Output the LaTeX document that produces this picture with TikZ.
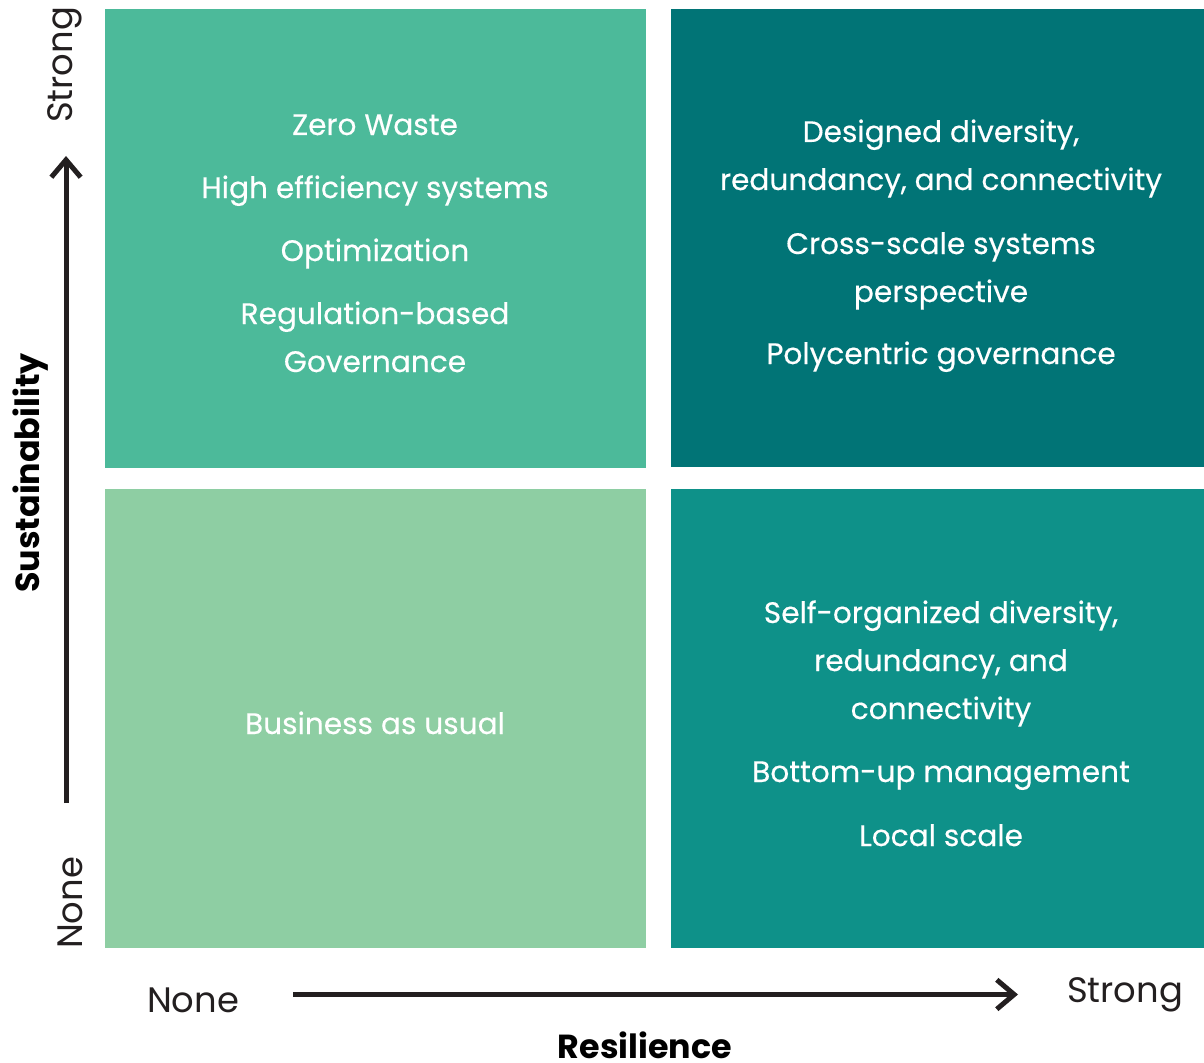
\documentclass[tikz,border=0pt]{standalone}
\usepackage{fontspec}
\setmainfont{Poppins}
\newfontfamily\itemfont{Poppins}[FakeBold=0.35]
\usetikzlibrary{arrows.meta}
\definecolor{qtl}{HTML}{4CBA9A}
\definecolor{qtr}{HTML}{017476}
\definecolor{qbl}{HTML}{8ECEA3}
\definecolor{qbr}{HTML}{0E9189}
\definecolor{axisink}{HTML}{231F20}
\begin{document}
\begin{tikzpicture}[x=0.75pt,y=-0.75pt,
  item/.style={anchor=base,align=center,text=white,inner sep=0pt,
    font=\itemfont\fontsize{22.2}{36}\selectfont},
  tick/.style={anchor=base,inner sep=0pt,text=axisink,
    font=\fontsize{26.5}{32}\selectfont},
  axislabel/.style={anchor=base,inner sep=0pt,text=black,
    font=\fontsize{25}{30}\selectfont\bfseries},
  axisarrow/.style={draw=axisink,line width=3.75pt,
    -{Straight Barb[length=13pt,width=22pt]}}]
\path[use as bounding box] (0,0) rectangle (1204,1063);

% quadrants
\fill[qtl] (105,9) rectangle (646,468);
\fill[qtr] (671,9) rectangle (1204,467);
\fill[qbl] (105,489) rectangle (646,948);
\fill[qbr] (671,489) rectangle (1204,948);

% top left (multi-line items are placed by their last baseline)
\node[item] (zw) at (375,135) {Zero Waste};
\node[item] (he) at (375,198) {High efficiency systems};
\node[item] (op) at (375,261) {Optimization};
\node[item] (rb) at (375,372) {Regulation-based\\Governance};

% top right
\node[item] (dd) at (941,190) {Designed diversity,\\redundancy, and connectivity};
\node[item] (cs) at (941,302) {Cross-scale systems\\perspective};
\node[item] (pg) at (941,364) {Polycentric governance};

% bottom left
\node[item] (bau) at (375,734) {Business as usual};

% bottom right
\node[item] (so) at (941,719) {Self-organized diversity,\\redundancy, and\\connectivity};
\node[item] (bu) at (941,782) {Bottom-up management};
\node[item] (ls) at (941,846) {Local scale};

% vertical axis
\coordinate (vlo) at (66,803);
\coordinate (vhi) at (66,156);
\draw[axisarrow] (vlo) -- (vhi);
\node[tick,rotate=90] (vstrong) at (72,65) {Strong};
\node[tick,rotate=90] (vnone) at (82,903) {None};
\node[axislabel,rotate=90] (sust) at (40,473) {Sustainability};

% horizontal axis
\coordinate (hlo) at (293,994.5);
\coordinate (hhi) at (1018,994.5);
\draw[axisarrow] (hlo) -- (hhi);
\node[tick] (hnone) at (193,1012) {None};
\node[tick] (hstrong) at (1125,1002) {Strong};
\node[axislabel] (res) at (645,1058) {Resilience};
\end{tikzpicture}
\end{document}
